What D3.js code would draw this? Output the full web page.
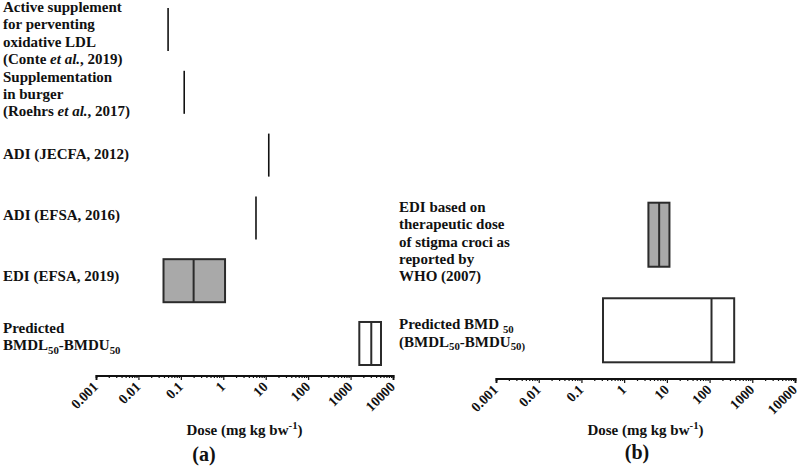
<!DOCTYPE html>
<html><head><meta charset="utf-8">
<script src="https://cdn.jsdelivr.net/npm/d3@7"></script>
<style>
body{margin:0;background:#fff;}
svg{display:block;}
text{font-family:"Liberation Serif","Times New Roman",serif;font-weight:bold;fill:#111;}
</style></head>
<body><svg id="c" width="800" height="468"></svg>
<script>
// ---------- Data ----------
const tickValues = [0.001, 0.01, 0.1, 1, 10, 100, 1000, 10000];
const tickLabels = ["0.001", "0.01", "0.1", "1", "10", "100", "1000", "10000"];
const axisTitle = "Dose (mg kg bw^{-1})";

// Panel (a)
const aLabels = [
  ["Active supplement", "for perventing", "oxidative LDL", "(Conte <i>et al.</i>, 2019)"],
  ["Supplementation", "in burger", "(Roehrs <i>et al.</i>, 2017)"],
  ["ADI (JECFA, 2012)"],
  ["ADI (EFSA, 2016)"],
  ["EDI (EFSA, 2019)"],
  ["Predicted", "BMDL_{50}-BMDU_{50}"]
];
const aPoint = [0.05, 0.12, 11.8, 5.9, null, null];
const aLow   = [null, null, null, null, 0.039, 1607];
const aMid   = [null, null, null, null, 0.20, 3077];
const aHigh  = [null, null, null, null, 1.1, 5212];
const aGroup = ["reference", "reference", "reference", "reference", "exposure", "predicted"];

// Panel (b)
const bLabels = [
  ["EDI based on", "therapeutic dose", "of stigma croci as", "reported by", "WHO (2007)"],
  ["Predicted BMD _{50}", "(BMDL_{50}-BMDU_{50)}"]
];
const bPoint = [null, null];
const bLow   = [3.7, 0.32];
const bMid   = [6.6, 111];
const bHigh  = [11.5, 377];
const bGroup = ["exposure", "predicted"];

// ---------- Drawing ----------
const svg = d3.select("#c");
const fillScale = d3.scaleOrdinal().domain(["exposure", "predicted"]).range(["#a9a9a9", "#ffffff"]);

function richText(sel, str, baseSize) {
  const parts = str.split(/(<i>.*?<\/i>|_\{.*?\}|\^\{.*?\})/).filter(s => s.length);
  let shift = 0;
  parts.forEach(p => {
    let t, style = null, dy = 0, size = baseSize;
    if (p.startsWith("<i>")) { t = p.slice(3, -4); style = "italic"; }
    else if (p.startsWith("_{")) { t = p.slice(2, -1); size = baseSize * 0.72; dy = 3.5; }
    else if (p.startsWith("^{")) { t = p.slice(2, -1); size = baseSize * 0.72; dy = -6; }
    else { t = p; }
    const ts = sel.append("tspan").text(t).attr("font-size", size);
    if (style) ts.attr("font-style", style);
    const d = dy - shift;
    if (d !== 0) ts.attr("dy", d);
    shift = dy;
  });
}

function panel(cfg) {
  const g = svg.append("g");
  const x = d3.scaleLog().domain([0.001, 10000]).range(cfg.xRange);
  const y = d3.scaleBand().domain(d3.range(cfg.labels.length)).range(cfg.yRange).paddingInner(cfg.pad).paddingOuter(0);
  const ly = d3.scalePoint().domain(d3.range(cfg.labels.length)).range(cfg.labelRange);

  // labels
  const lh = 17.2;
  cfg.labels.forEach((lines, i) => {
    const first = ly(i) + 5.5 - (lines.length - 1) * lh / 2;
    lines.forEach((ln, j) => {
      const t = g.append("text").attr("x", cfg.labelX).attr("y", first + j * lh).attr("font-size", 15);
      richText(t, ln, 15);
    });
  });

  // marks
  cfg.labels.forEach((_, i) => {
    const y0 = y(i), y1 = y(i) + y.bandwidth();
    if (cfg.point[i] != null) {
      g.append("line").attr("x1", x(cfg.point[i])).attr("x2", x(cfg.point[i]))
        .attr("y1", y0).attr("y2", y1).attr("stroke", "#111").attr("stroke-width", 1.6);
    } else {
      g.append("rect").attr("x", x(cfg.low[i])).attr("y", y0)
        .attr("width", x(cfg.high[i]) - x(cfg.low[i])).attr("height", y.bandwidth())
        .attr("fill", fillScale(cfg.group[i])).attr("stroke", "#2b2b2b").attr("stroke-width", 2);
      g.append("line").attr("x1", x(cfg.mid[i])).attr("x2", x(cfg.mid[i]))
        .attr("y1", y0).attr("y2", y1).attr("stroke", "#2b2b2b").attr("stroke-width", 2);
    }
  });

  // axis
  const minor = [];
  for (let e = -3; e < 4; e++) for (let k = 2; k <= 9; k++) minor.push(k * Math.pow(10, e));
  const ax = g.append("g").attr("transform", `translate(0,${cfg.axisY})`);
  ax.call(d3.axisBottom(x).tickValues(minor).tickSize(2.5).tickFormat(""));
  ax.append("g").call(d3.axisBottom(x).tickValues(tickValues).tickSize(4.5)
      .tickFormat((d, i) => tickLabels[i]));
  ax.selectAll("path.domain").attr("stroke", "#111").attr("stroke-width", 1.8);
  ax.selectAll(".tick line").attr("stroke", "#111").attr("stroke-width", 1.2);
  ax.selectAll(".tick text")
    .attr("font-family", "Liberation Serif, serif").attr("font-weight", "bold")
    .attr("font-size", 14).attr("fill", "#111")
    .attr("text-anchor", "end").attr("y", 0).attr("dy", 0)
    .attr("transform", "translate(2.5,12) rotate(-45)");

  const cx = (cfg.xRange[0] + cfg.xRange[1]) / 2;
  const tt = g.append("text").attr("x", cx).attr("y", 435).attr("text-anchor", "middle").attr("font-size", 15);
  richText(tt, axisTitle, 15);
  g.append("text").attr("x", cfg.tagX).attr("y", cfg.tagY).attr("text-anchor", "middle")
    .attr("font-size", 20).text(cfg.tag);
}

panel({labels: aLabels, point: aPoint, low: aLow, mid: aMid, high: aHigh, group: aGroup,
  xRange: [96, 393], yRange: [8, 365], pad: 0.315, axisY: 375.5, labelX: 3, labelRange: [32.5, 336],
  tag: "(a)", tagX: 204, tagY: 461});
panel({labels: bLabels, point: bPoint, low: bLow, mid: bMid, high: bHigh, group: bGroup,
  xRange: [496, 795], yRange: [202.7, 362.3], pad: 0.33, axisY: 378.5, labelX: 399, labelRange: [241, 332.5],
  tag: "(b)", tagX: 637, tagY: 459});
</script></body></html>
